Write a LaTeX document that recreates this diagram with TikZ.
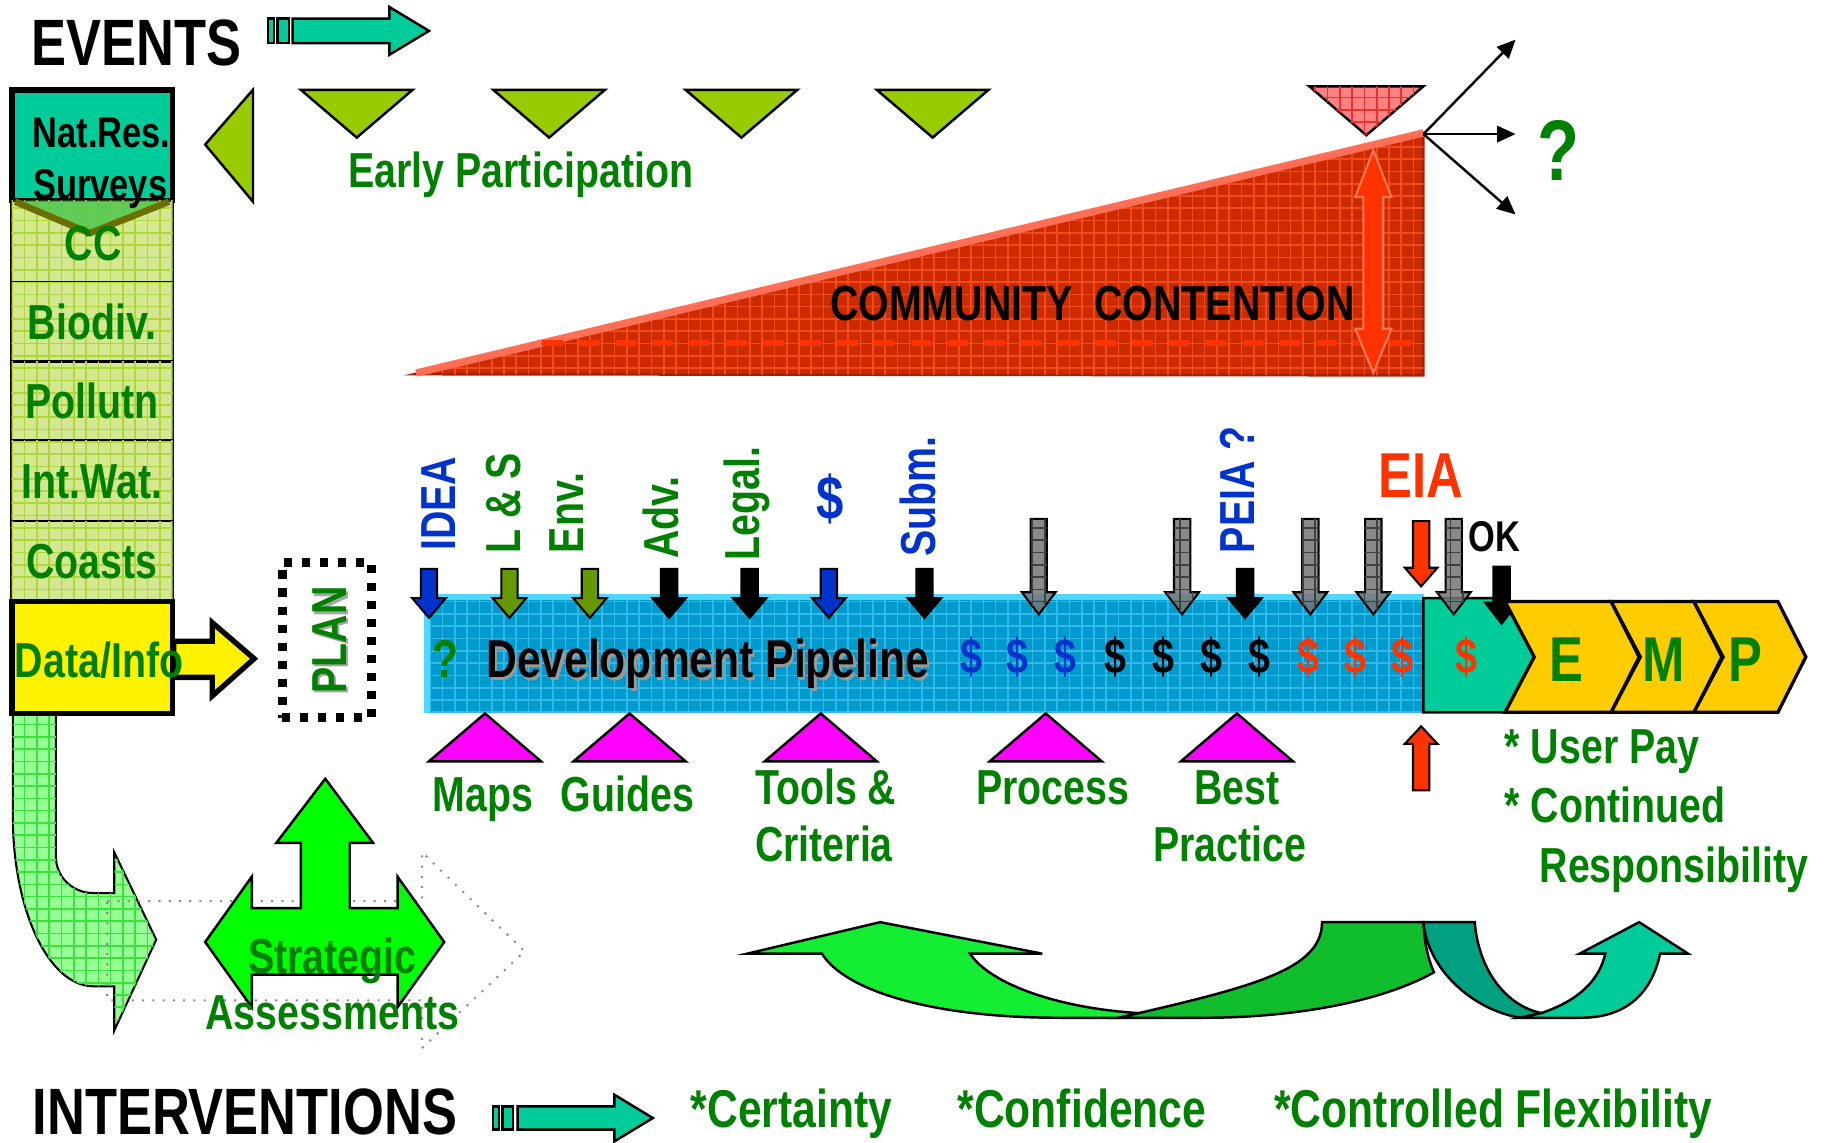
\documentclass[tikz,border=0pt]{standalone}
\usepackage{fontspec}
\setsansfont{Liberation Sans}[FakeStretch=0.8]
\usetikzlibrary{arrows.meta,patterns}

\definecolor{tgreen}{RGB}{0,128,0}
\definecolor{tblue}{RGB}{0,51,204}
\definecolor{tred}{RGB}{255,51,0}
\definecolor{teal1}{RGB}{0,204,153}
\definecolor{trigreen}{RGB}{153,204,0}
\definecolor{cellgreen}{RGB}{212,232,145}
\definecolor{cellgrid}{RGB}{175,215,60}
\definecolor{chevgreen}{RGB}{80,200,80}
\definecolor{chevedge}{RGB}{110,110,0}
\definecolor{pipeblue}{RGB}{0,155,205}
\definecolor{pipegrid}{RGB}{50,185,235}
\definecolor{pipeedge}{RGB}{80,215,255}
\definecolor{wedgered}{RGB}{205,42,0}
\definecolor{wedgegrid}{RGB}{240,75,25}
\definecolor{wedgetop}{RGB}{255,110,85}
\definecolor{olivearr}{RGB}{102,153,0}
\definecolor{empyellow}{RGB}{255,204,0}
\definecolor{jgreen}{RGB}{150,255,150}
\definecolor{jgrid}{RGB}{60,225,60}
\definecolor{sagreen}{RGB}{0,255,0}
\definecolor{curvea}{RGB}{20,238,50}
\definecolor{curveb}{RGB}{16,190,45}
\definecolor{curvec}{RGB}{0,160,128}
\definecolor{pinktri}{RGB}{255,130,130}
\definecolor{pinkgrid}{RGB}{235,50,50}
\definecolor{magtri}{RGB}{255,0,255}

\begin{document}
\begin{tikzpicture}[x=0.1mm, y=-0.1mm,
  fs/.style={font=\sffamily\bfseries\fontsize{#1}{#1}\selectfont,
    text height={0.716*#1pt}, text depth=0pt, inner sep=0pt},
  lbl/.style={fs=12, text=tgreen},
  title/.style={fs=16, text=black},
  vlbl/.style={lbl, rotate=90},
  outl/.style={draw=black, line width=0.6pt, line join=miter},
  tealblk/.style={outl, fill=teal1},
  tri/.style={outl, fill=trigreen},
  box/.style={draw=black, line width=1.4pt, minimum width=13.8mm, inner sep=0pt},
  cell/.style={outl, fill=cellgreen, postaction={pattern=grid, pattern color=cellgrid},
    minimum width=13.8mm, lbl},
  wedge/.style={fill=wedgered, postaction={pattern=grid, pattern color=wedgegrid},
    draw={rgb,255:red,170;green,30;blue,0}, line width=0.6pt},
  redblk/.style={fill=tred, draw={rgb,255:red,255;green,120;blue,90}, line width=0.5pt},
  pipe/.style={fill=pipeblue, postaction={pattern=grid, pattern color=pipegrid},
    draw={rgb,255:red,0;green,120;blue,160}, line width=0.5pt, inner sep=0pt},
  blk/.style={draw=black, line width=0.5pt, line join=miter},
  grayblk/.style={blk, fill={rgb,255:red,118;green,118;blue,118}, fill opacity=0.85,
    postaction={pattern=grid, pattern color=black!75}},
  chev/.style={draw=black, line width=0.8pt, fill=empyellow, line join=miter},
  ribbon/.style={draw=black, line width=0.6pt},
  outarrow/.style={-{Triangle[length=4.5pt,width=4pt]}, line width=0.6pt}
]
\useasboundingbox (0,0) rectangle (1568,980);

% events row
\node[title] (events) at (117,36) {EVENTS};
\draw[tealblk] (230,16) rectangle (235,37);
\draw[tealblk] (238,16) rectangle (248,37);
\draw[tealblk] (251,16) -- (334,16) -- (334,6) -- (368,26.5) -- (334,47) -- (334,37) -- (251,37) -- cycle;

\draw[tri] (176,124) -- (217,77) -- (217,173) -- cycle;
\foreach \x in {306,471,636,800}
  \draw[tri] (\x-48,77) -- (\x+48,77) -- (\x,118) -- cycle;
\node[lbl] (early) at (447,146) {Early Participation};

% community contention
\draw[wedge] (355,321) -- (1221,114) -- (1221,322) -- cycle;
\draw[wedgetop, line width=1.8pt] (357,320) -- (1221,114);
\draw[tred, line width=1.5pt, dash pattern=on 5pt off 4pt] (465,294) -- (1221,294);
\node[fs=12] (contention) at (937,260) {COMMUNITY~~CONTENTION};
\draw[redblk] (1178,129) -- (1193.5,169) -- (1186.5,169) -- (1186.5,282) -- (1193.5,282) -- (1178,320)
  -- (1162.5,282) -- (1169.5,282) -- (1169.5,169) -- (1162.5,169) -- cycle;
\draw[outl, fill=pinktri, postaction={pattern=grid, pattern color=pinkgrid}]
  (1123,74) -- (1221,74) -- (1172,116) -- cycle;
\coordinate (peak) at (1221,115);
\coordinate (outup) at (1300,34);
\coordinate (outmid) at (1300,115);
\coordinate (outdown) at (1300,184);
\foreach \c in {outup,outmid,outdown}
  \draw[outarrow] (peak) -- (\c);
\node[fs=21, text=tgreen] (query) at (1337,128) {?};

% green bent arrow, ghost arrow, strategic assessments
\draw[outl, line width=0.5pt, fill=jgreen, postaction={pattern=grid, pattern color=jgrid}]
  (11,612) -- (11,700) .. controls (11,781) and (42,846) .. (80,846) -- (98,846) -- (98,884)
  -- (134,806) -- (98,731) -- (98,766) -- (80,766) .. controls (62,766) and (48,752) .. (48,735)
  -- (48,612) -- cycle;
\draw[black!45, line width=0.5pt, dotted] (92,773) -- (362,773) -- (362,731) -- (450,816)
  -- (362,899) -- (362,858) -- (92,858) -- cycle;
\draw[outl, fill=sagreen] (279,668) -- (320,723) -- (300,723) -- (300,779) -- (341,779) -- (341,752)
  -- (381,808) -- (341,864) -- (341,836) -- (216,836) -- (216,864) -- (176,808) -- (216,752)
  -- (216,779) -- (258,779) -- (258,723) -- (237,723) -- cycle;
\node[lbl] (strat) at (285,820) {Strategic};
\node[lbl] (assess) at (285,868) {Assessments};

% left column
\node[box, fill=teal1, minimum height=9.5mm] (natres) at (79,124.5) {};
\foreach \n/\t/\y/\h in {cc//207/7.0, biodiv/Biodiv./276/6.8, pollutn/Pollutn/344/6.8,
    intwat/Int.Wat./412.5/6.9, coasts/Coasts/481.5/6.9}
  \node[cell, minimum height=\h mm] (\n) at (79,\y) {\t};
\fill[chevgreen, opacity=0.85] (11,172) -- (147,172) -- (77,200) -- cycle;
\draw[chevedge, line width=1.6pt] (13,173) -- (77,200) -- (145,173);
\node[lbl] (cclbl) at (80,208) {CC};
\node[fs=10.5, text=black, align=center] (natreslbl) at (87,113) {Nat.Res.};
\node[fs=10.5, text=black, align=center] (surveys) at (86,158) {Surveys};

\node[box, fill=yellow, minimum height=9.6mm] (datainfo) at (79,564) {};
\draw[draw=black, line width=1.3pt, fill=yellow, line join=miter]
  (149,550) -- (182,550) -- (182,534) -- (218,565) -- (182,597) -- (182,581) -- (149,581) -- cycle;
\node[lbl] (datalbl) at (85,566) {Data/Info};

% plan
\node[draw=black, line width=2.2pt, dash pattern=on 2pt off 2.4pt, minimum width=7.7mm,
  minimum height=13.3mm, inner sep=0pt] (planbox) at (280.5,549) {};
\node[fs=12, text=black!35, rotate=90] (planshadow) at (284,551) {PLAN};
\node[fs=12, text=tgreen, rotate=90] (plan) at (282,549) {PLAN};

% development pipeline
\node[pipe, minimum width=85.4mm, minimum height=9.8mm] (pipeline) at (794,562) {};
\draw[pipeedge, line width=1.5pt] (pipeline.south west) -- (pipeline.north west) -- (pipeline.north east);
\node[fs=13, text=tgreen] (pq) at (382,565) {?};
\node[fs=13, text=black!40] (pipeshadow) at (609,567) {Development Pipeline};
\node[fs=13] (pipelbl) at (607,565) {Development Pipeline};
\foreach \x/\c [count=\i] in {833/tblue,873/tblue,914/tblue,957/black,998/black,1039/black,
    1080/black,1122/tred,1163/tred,1203/tred}
  \node[fs=12, text=\c] (dol\i) at (\x,563) {\$};

\draw[tealblk] (1221,513) -- (1292,513) -- (1316,563) -- (1292,611) -- (1221,611) -- cycle;
\node[fs=12, text=tred] (dolteal) at (1258,563) {\$};

% arrows into the pipeline
\foreach \x/\c in {368/tblue,437/olivearr,506/olivearr,574/black,643/black,711/tblue,793/black,1068/black}
  \draw[blk, fill=\c] (\x-7,488) -- (\x+7,488) -- (\x+7,513) -- (\x+14.5,513) -- (\x,530)
    -- (\x-14.5,513) -- (\x-7,513) -- cycle;
\foreach \x in {891,1014,1124,1178,1247}
  \draw[grayblk] (\x-7,445) -- (\x+7,445) -- (\x+7,508) -- (\x+14.5,508) -- (\x,527)
    -- (\x-14.5,508) -- (\x-7,508) -- cycle;
\draw[blk, fill=tred] (1212,447) -- (1226,447) -- (1226,487) -- (1233,487) -- (1219,503)
  -- (1205,487) -- (1212,487) -- cycle;
\draw[blk, fill=black] (1281,486) -- (1295,486) -- (1295,517) -- (1302,517) -- (1288,535)
  -- (1274,517) -- (1281,517) -- cycle;
\draw[blk, fill=tred] (1219,623) -- (1233,638) -- (1226,638) -- (1226,678) -- (1212,678)
  -- (1212,638) -- (1205,638) -- cycle;

% E M P
\foreach \a/\b/\t/\m [count=\i] in {1291/1382/E/1344, 1382/1453/M/1427, 1453/1525/P/1497} {
  \draw[chev] (\a,516) -- (\b,516) -- (\b+24,563.5) -- (\b,611) -- (\a,611) -- (\a+25,563.5) -- cycle;
  \node[fs=15.5, text=tgreen] (emp\i) at (\m,565) {\t};
}

% labels above the pipeline
\foreach \n/\t/\x/\y/\c in {idea/IDEA/376/432/tblue, ls/L \& S/431/432/tgreen, env/Env./485/440/tgreen,
    adv/Adv./567/444/tgreen, legal/Legal./636/432/tgreen, subm/Subm./787/426/tblue,
    peia/PEIA ?/1061/420/tblue}
  \node[vlbl, text=\c] (\n) at (\x,\y) {\t};
\node[fs=15, text=tblue] (money) at (712,427) {\$};
\node[fs=15.5, text=tred] (eia) at (1219,407) {EIA};
\node[fs=10.5, text=black] (ok) at (1282,460) {OK};

% supports under the pipeline
\foreach \x in {416,540,704,897,1061}
  \draw[outl, fill=magtri] (\x-48,653) -- (\x,612) -- (\x+48,653) -- cycle;
\node[lbl] (maps) at (414,681) {Maps};
\node[lbl] (guides) at (538,681) {Guides};
\node[lbl, anchor=west] (tools) at (647,675) {Tools \&};
\node[lbl, anchor=west] (criteria) at (647,724) {Criteria};
\node[lbl] (process) at (903,675) {Process};
\node[lbl] (best) at (1061,675) {Best};
\node[lbl] (practice) at (1055,724) {Practice};
\node[lbl, anchor=west] (userpay) at (1290,640) {* User Pay};
\node[lbl, anchor=west] (continued) at (1290,690) {* Continued};
\node[lbl, anchor=west] (respons) at (1320,742) {Responsibility};

% feedback ribbons
\draw[ribbon, fill=curvea] (705,818) -- (641,818) -- (755,791) -- (894,818) -- (832,818)
  .. controls (850,845) and (910,865) .. (977,869) -- (960,873) -- (909,873)
  .. controls (800,873) and (725,850) .. (705,818) -- cycle;
\draw[ribbon, fill=curveb] (1134,791) -- (1221,791) .. controls (1222,812) and (1226,825) .. (1230,834)
  .. controls (1180,862) and (1100,873) .. (1033,873) -- (960,873) -- (977,869)
  .. controls (1080,845) and (1134,830) .. (1134,791) -- cycle;
\draw[ribbon, fill=curvec] (1221,791) -- (1265,791) .. controls (1268,830) and (1290,862) .. (1322,869)
  -- (1304,873) .. controls (1262,866) and (1224,830) .. (1221,791) -- cycle;
\draw[ribbon, fill=teal1] (1322,869) .. controls (1355,858) and (1372,840) .. (1377,818) -- (1355,818)
  -- (1406,791) -- (1448,818) -- (1424,818) .. controls (1416,855) and (1392,873) .. (1356,873)
  -- (1304,873) -- cycle;

% interventions row
\node[title] (interv) at (210,953) {INTERVENTIONS};
\draw[tealblk] (423,949) rectangle (428,969);
\draw[tealblk] (431,949) rectangle (440,969);
\draw[tealblk] (444,949) -- (527,949) -- (527,939) -- (560,959) -- (527,979) -- (527,969) -- (444,969) -- cycle;
\node[fs=13, text=tgreen] (certainty) at (679,951) {*Certainty};
\node[fs=13, text=tgreen] (confidence) at (928,951) {*Confidence};
\node[fs=13, text=tgreen] (flex) at (1281,951) {*Controlled Flexibility};
\end{tikzpicture}
\end{document}
